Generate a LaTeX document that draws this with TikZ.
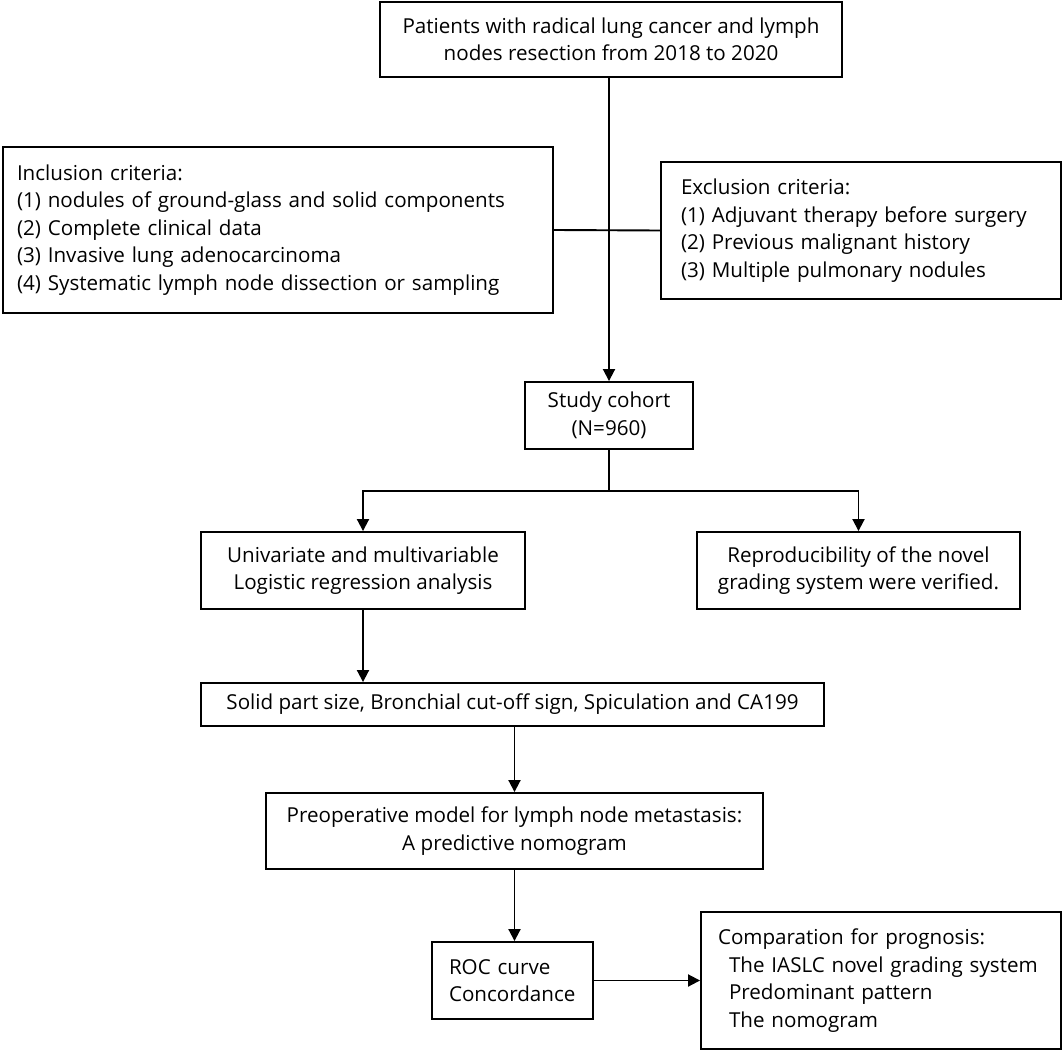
\documentclass[tikz,border=0pt]{standalone}
\usepackage{fontspec}
\setmainfont{Open Sans}
\usepackage{tikz}
\usetikzlibrary{arrows.meta}

\tikzset{
  blk/.style={draw=black, line width=1.9pt, inner sep=0pt, align=center,
    font=\fontsize{20.6}{27.5}\selectfont},
  lblk/.style={blk, align=left},
  lnk/.style={black, line width=1.9pt},
  arr/.style={lnk, -{Triangle[length=12pt,width=12pt]}},
}

\begin{document}
\begin{tikzpicture}[x=1pt,y=-1pt]
    \useasboundingbox (0,0) rectangle (1063,1054);
    % cohort selection
    \node[blk, minimum width=462pt, minimum height=75pt] (top) at (611,39.5)
      {Patients with radical lung cancer and lymph\\nodes resection from 2018 to 2020};
    \node[lblk, text width=522pt, inner xsep=14pt, minimum height=166pt] (incl) at (278,230)
      {Inclusion criteria:\\(1) nodules of ground-glass and solid components\\(2) Complete clinical data\\(3) Invasive lung adenocarcinoma\\(4) Systematic lymph node dissection or sampling};
    \node[lblk, text width=360pt, inner xsep=20pt, minimum height=137pt] (excl) at (861,230.5)
      {Exclusion criteria:\\(1) Adjuvant therapy before surgery\\(2) Previous malignant history\\(3) Multiple pulmonary nodules};
    \node[blk, minimum width=168pt, minimum height=67pt] (cohort) at (609,415.5)
      {Study cohort\\(N=960)};
    % analysis
    \node[blk, minimum width=324pt, minimum height=77pt] (univ) at (363,570.5)
      {Univariate and multivariable\\Logistic regression analysis};
    \node[blk, minimum width=323pt, minimum height=77pt] (repro) at (858.5,570.5)
      {Reproducibility of the novel\\grading system were verified.};
    \node[blk, minimum width=623pt, minimum height=43pt] (solid) at (512.5,704.5)
      {Solid part size, Bronchial cut-off sign, Spiculation and CA199};
    \node[blk, minimum width=497pt, minimum height=76pt] (preop) at (514.5,831)
      {Preoperative model for lymph node metastasis:\\A predictive nomogram};
    \node[lblk, text width=127pt, inner xsep=17pt, minimum height=77pt] (roc) at (512.5,980.5)
      {ROC curve\\Concordance};
    \node[lblk, text width=326pt, inner xsep=17pt, minimum height=137pt] (comp) at (881,980.5)
      {\mbox{Comparation for prognosis:}\\\mbox{\hspace*{11pt}The IASLC novel grading system}\\\mbox{\hspace*{11pt}Predominant pattern}\\\mbox{\hspace*{11pt}The nomogram}};

    % links
    \coordinate (split) at (609,491);
    \draw[arr] (top.south -| cohort.north) -- (cohort.north);
    \draw[lnk] (incl.east) -- (excl.west);
    \draw[lnk] (cohort.south) -- (split);
    \draw[arr] (split) -| (univ.north);
    \draw[arr] (split) -| (repro.north);
    \draw[arr] (univ.south) -- (univ.south |- solid.north);
    \draw[arr] (preop.north |- solid.south) -- (preop.north);
    \draw[arr] (preop.south) -- (preop.south |- roc.north);
    \draw[arr] (roc.east) -- (roc.east -| comp.west);
\end{tikzpicture}
\end{document}
